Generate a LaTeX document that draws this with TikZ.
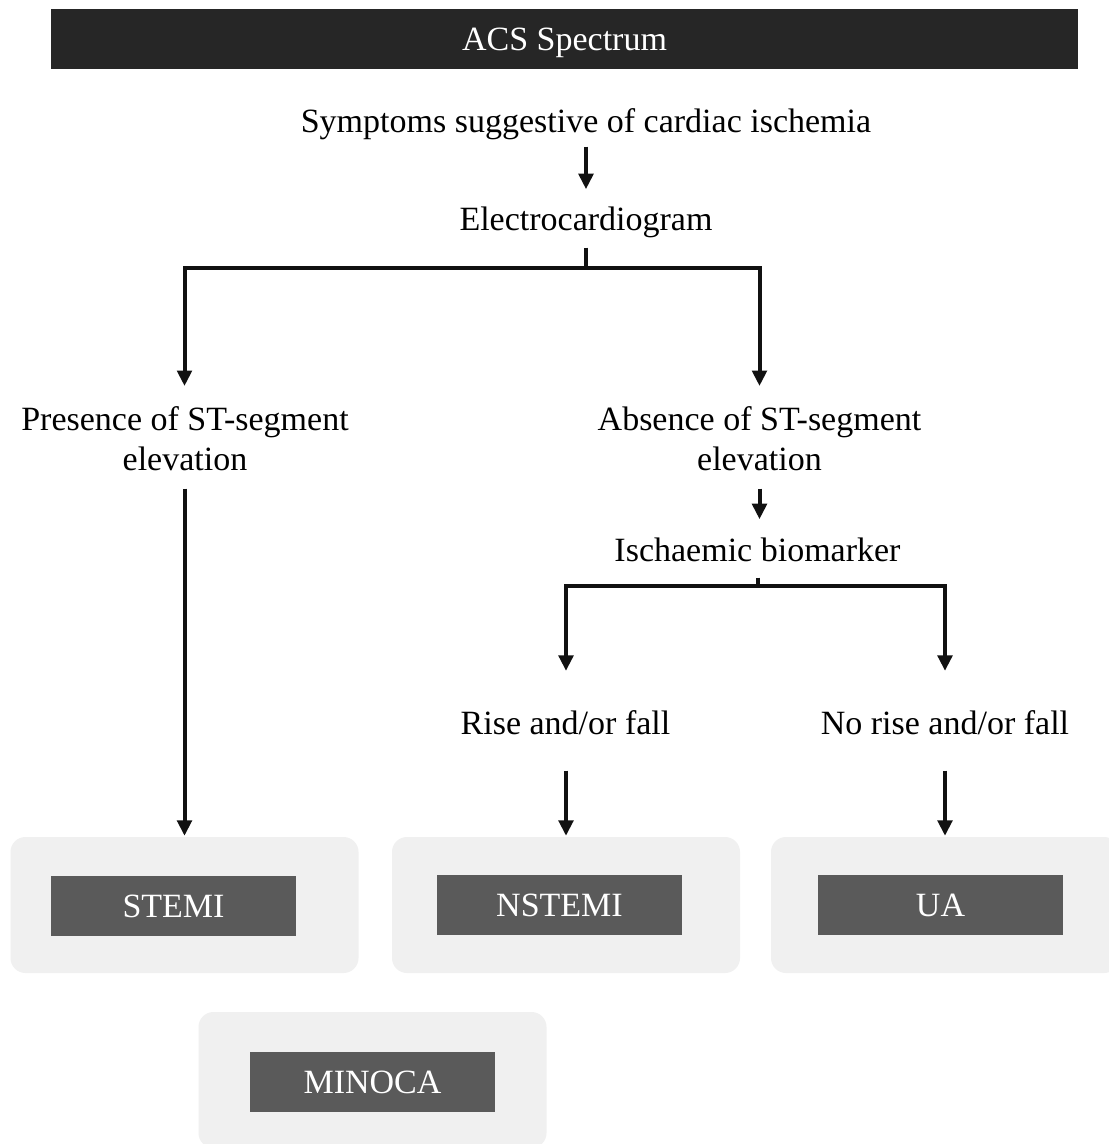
\documentclass[tikz,border=0pt]{standalone}
\usepackage{fontspec}
\setmainfont{Liberation Serif}
\usetikzlibrary{arrows.meta,calc}
\definecolor{barc}{HTML}{262626}
\definecolor{innc}{HTML}{5A5A5A}
\definecolor{outc}{HTML}{F0F0F0}
\definecolor{linec}{HTML}{111111}
\begin{document}
\begin{tikzpicture}[x=1pt,y=-1pt,
  txt/.style={font=\fontsize{34}{40}\selectfont, inner sep=0pt, anchor=base, align=center},
  txtn/.style={font=\fontsize{34}{40}\selectfont, inner sep=0pt, anchor=north, align=center},
  titlebar/.style={fill=barc, text=white, minimum width=1027pt, minimum height=60pt, inner sep=0pt,
    text depth=0pt, font=\fontsize{34}{40}\selectfont},
  outerbox/.style={fill=outc, rounded corners=15pt, minimum width=348pt, minimum height=136pt, inner sep=0pt},
  innerbox/.style={fill=innc, text=white, minimum width=245pt, minimum height=60pt, inner sep=0pt,
    font=\fontsize{34}{40}\selectfont},
  ln/.style={draw=linec, line width=4pt},
  arr/.style={ln, -{Triangle[width=14.5pt,length=15.5pt]}}]
\useasboundingbox[fill=white] (0,0) rectangle (1109,1144);

\node[titlebar] (title) at (564.5,39) {ACS Spectrum};

\node[txt] (sym) at (586,132) {Symptoms suggestive of cardiac ischemia};
\node[txt] (ecg) at (586,230) {Electrocardiogram};
\node[txtn] (pres) at (185,406) {Presence of ST-segment\\elevation};
\node[txtn] (abs) at (759.5,406) {Absence of ST-segment\\elevation};
\node[txt] (bio) at (757.5,561) {Ischaemic biomarker};
\node[txt] (rise) at (565.5,734) {Rise and/or fall};
\node[txt] (norise) at (945,734) {No rise and/or fall};

\node[outerbox] (stemiO) at (184.5,905) {};
\node[innerbox] (stemi) at (173.5,906) {STEMI};
\node[outerbox] (nstemiO) at (566,905) {};
\node[innerbox] (nstemi) at (559.5,905) {NSTEMI};
\node[outerbox] (uaO) at (945,905) {};
\node[innerbox] (ua) at (940.5,905) {UA};
\node[outerbox] (minocaO) at (372.5,1080) {};
\node[innerbox] (minoca) at (372.5,1082) {MINOCA};

\coordinate (ecgJ) at (586,268);
\coordinate (bioJ) at (758,586);

\draw[arr] ([yshift=-7pt]sym.south) -- ([yshift=17pt]ecg.north);
\draw[ln] ([yshift=-10pt]ecg.south) -- (ecgJ);
\draw[arr] (ecgJ) -| ([yshift=20pt]pres.north -| stemiO.north);
\draw[arr] (ecgJ) -| ([yshift=20pt]abs.north);
\draw[arr] ([yshift=-18pt]pres.south -| stemiO.north) -- ([yshift=1pt]stemiO.north);
\draw[arr] ([yshift=-18pt]abs.south) -- ([yshift=18pt]abs.south |- bio.north);
\draw[ln] ([yshift=-16pt]bio.south -| bioJ) -- (bioJ);
\draw[arr] (bioJ) -| ([yshift=39pt]rise.north -| nstemiO.north);
\draw[arr] (bioJ) -| ([yshift=39pt]norise.north);
\draw[arr] ([yshift=-36pt]rise.south -| nstemiO.north) -- ([yshift=1pt]nstemiO.north);
\draw[arr] ([yshift=-36pt]norise.south) -- ([yshift=1pt]uaO.north);
\end{tikzpicture}
\end{document}
